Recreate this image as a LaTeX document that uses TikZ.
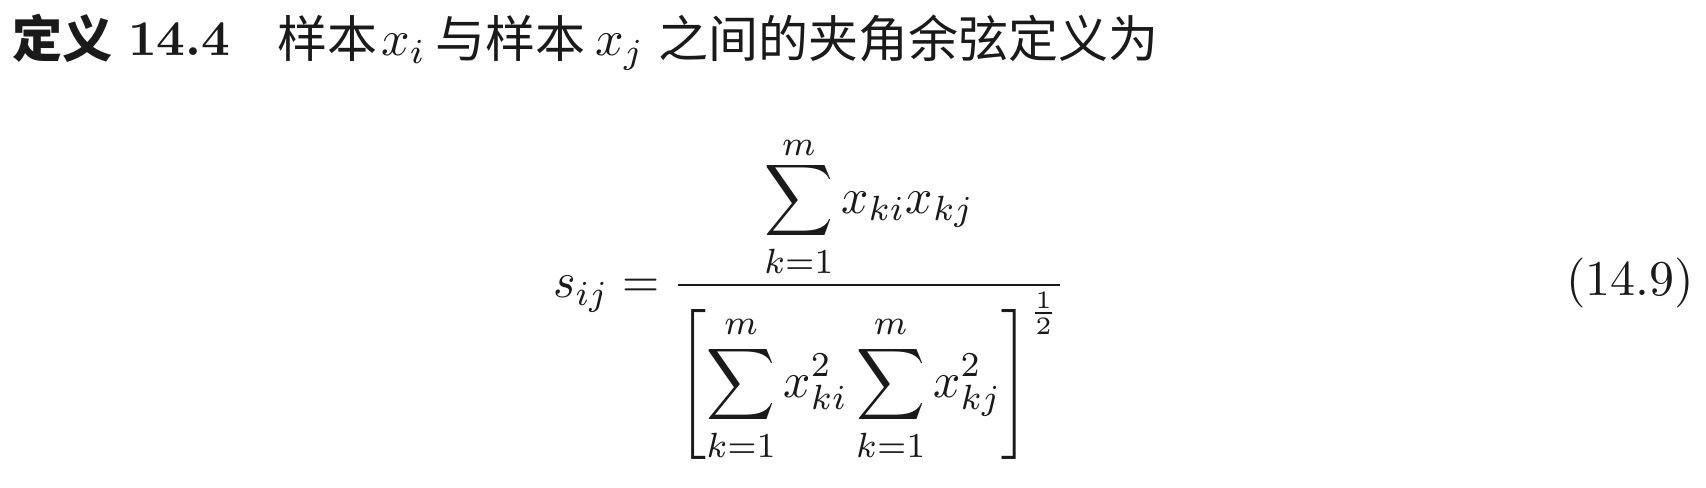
\documentclass[tikz,border=0pt]{standalone}
\usepackage{amsmath}
\usepackage{fontspec}
\newfontfamily\cjk{Noto Sans CJK SC}
\definecolor{ink}{HTML}{1A1A1A}
\newcommand{\lowm}{\raisebox{-1pt}[\height][0pt]{$\scriptstyle m$}}
\begin{document}
\begin{tikzpicture}[x=0.2pt,y=-0.2pt,
  txt/.style={inner sep=0pt, outer sep=0pt, text=ink}]
\useasboundingbox[fill=white] (0,0) rectangle (1706,488);
\node[txt, anchor=base west] (d) at (12,58) {\cjk\bfseries 定义};
\node[txt, anchor=base west] (n) at (128,56) {\bfseries 14.4};
\node[txt, anchor=base west] (t1) at (277,58) {\cjk 样本};
\node[txt, anchor=base west] (xi) at (381,56) {$x_i$};
\node[txt, anchor=base west] (t2) at (435,58) {\cjk 与样本};
\node[txt, anchor=base west] (xj) at (595,56) {$x_j$};
\node[txt, anchor=base west] (t3) at (658,58) {\cjk 之间的夹角余弦定义为};
\node[txt, anchor=base west, xscale=0.955] (eq) at (553,298) {$\displaystyle s_{ij}=\dfrac{\displaystyle\sum_{k=1}^{\lowm}x_{ki}x_{kj}}{\left[\displaystyle\sum_{k=1}^{m}x_{ki}^2\sum_{k=1}^{m}x_{kj}^2\right]^{\frac{1}{2}}}$};
\node[txt, anchor=base east] (num) at (1694,296) {(14.9)};
\end{tikzpicture}
\end{document}
